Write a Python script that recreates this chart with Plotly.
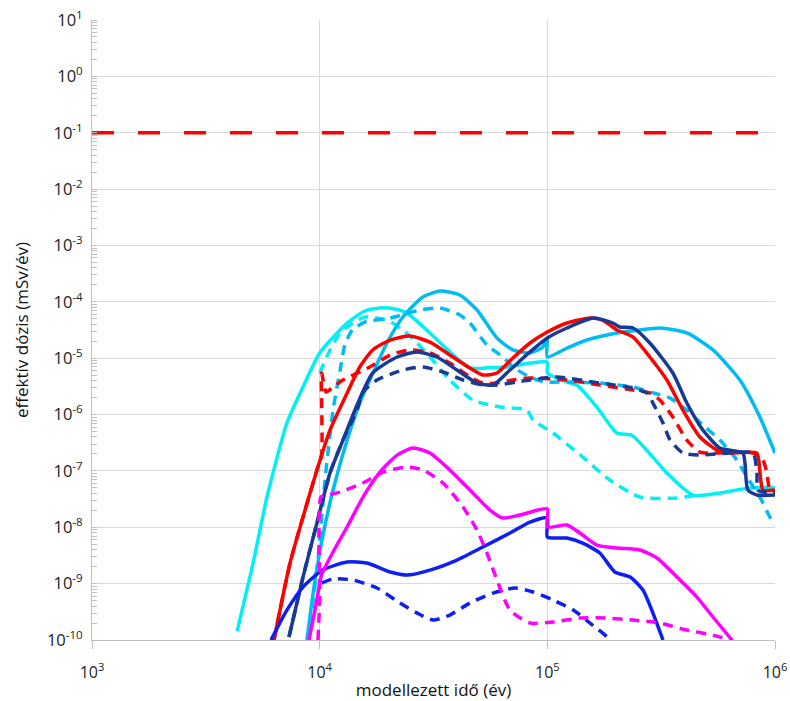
import plotly.graph_objects as go

# ---- data (years, mSv/year) ----
limit_x = [1e3, 1e6]
limit_y = [0.1, 0.1]

aqua_x = [4.34e3, 5.1e3, 5.87e3, 7.18e3, 8.45e3, 1.0e4, 1.32e4, 1.58e4, 1.84e4, 2.14e4, 2.42e4, 3.05e4,
          3.73e4, 4.57e4, 5.6e4, 6.65e4, 8.4e4, 1e5, 1e5, 1.22e5, 1.35e5, 1.65e5, 2.02e5, 2.35e5,
          2.74e5, 3.35e5, 4.36e5, 5.56e5, 7.76e5, 1e6]
aqua_y = [1.44e-10, 2.32e-9, 3.44e-8, 7.07e-7, 3.08e-6, 1.24e-5, 4.2e-5, 6.87e-5, 7.8e-5, 7.45e-5, 6.3e-5, 2.8e-5,
          1.3e-5, 6.7e-6, 6.8e-6, 7.0e-6, 8.2e-6, 8.5e-6, 5.5e-6, 3.8e-6, 3.3e-6, 1.36e-6, 4.7e-7, 4.3e-7,
          2.3e-7, 9.2e-8, 3.7e-8, 4.0e-8, 5.0e-8, 5.1e-8]

aqua_d_x = [1.0e4, 1.11e4, 1.23e4, 1.36e4, 1.58e4, 1.975e4, 2.32e4, 2.68e4, 3.05e4, 3.73e4, 4.71e4,
            6.19e4, 8.14e4, 8.65e4, 1.06e5, 1.43e5, 1.88e5, 2.55e5, 3.71e5, 4.54e5]
aqua_d_y = [5.46e-6, 1.4e-5, 2.8e-5, 3.88e-5, 5.37e-5, 4.75e-5, 3.16e-5, 1.86e-5, 1.05e-5, 4.1e-6, 1.81e-6,
            1.36e-6, 1.2e-6, 8.0e-7, 4.7e-7, 1.76e-7, 6.89e-8, 3.44e-8, 3.3e-8, 3.73e-8]

sky_x = [8.79e3, 9.54e3, 1.03e4, 1.145e4, 1.32e4, 1.5e4, 1.66e4, 1.975e4, 2.32e4, 2.84e4, 3.38e4, 4.13e4,
         4.91e4, 6.01e4, 7.06e4, 8.39e4, 9.56e4, 1e5, 1e5, 1.22e5, 1.49e5, 2.02e5, 2.55e5, 3.12e5,
         4.1e5, 5.34e5, 7.01e5, 8.58e5, 1e6]
sky_y = [1.0e-10, 1.16e-9, 6.71e-9, 4.58e-8, 3.53e-7, 1.6e-6, 4.1e-6, 1.86e-5, 5.37e-5, 1.22e-4, 1.55e-4, 1.32e-4,
         7.15e-5, 2.28e-5, 1.4e-5, 1.24e-5, 1.58e-5, 2.28e-5, 1.05e-5, 1.51e-5, 2.1e-5, 2.8e-5, 3.16e-5, 3.43e-5,
         2.8e-5, 1.4e-5, 4.1e-6, 9.04e-7, 2.08e-7]

sky_d_x = [9.07e3, 9.83e3, 1.055e4, 1.145e4, 1.23e4, 1.29e4, 1.39e4, 1.58e4, 2.04e4, 2.76e4, 3.38e4, 4.13e4,
           4.57e4, 5.43e4, 6.38e4, 7.06e4, 8.39e4, 9.76e4, 1.22e5, 1.7e5, 2.38e5, 2.82e5, 3.46e5, 4.1e5,
           4.82e5, 5.73e5, 6.8e5, 7.53e5, 8.58e5, 9.5e5, 1e6]
sky_d_y = [1.84e-10, 2.62e-9, 6.89e-8, 1.2e-6, 6.17e-6, 1.71e-5, 3.16e-5, 4.38e-5, 5.16e-5, 7.15e-5, 7.76e-5, 5.83e-5,
           4.21e-5, 1.71e-5, 1.05e-5, 6.97e-6, 4.63e-6, 3.78e-6, 3.78e-6, 3.62e-6, 3.08e-6, 2.51e-6, 1.96e-6, 1.2e-6,
           6.52e-7, 3.53e-7, 1.56e-7, 7.78e-8, 3.44e-8, 1.52e-8, 1.1e-8]

red_x = [6.3e3, 7.41e3, 8.45e3, 9.73e3, 1.11e4, 1.32e4, 1.5e4, 1.71e4, 2.04e4, 2.49e4, 3.05e4, 3.73e4,
         4.57e4, 5.21e4, 6.01e4, 7.06e4, 8.39e4, 1e5, 1.22e5, 1.54e5, 1.75e5, 2.02e5, 2.38e5, 2.82e5,
         3.35e5, 3.94e5, 4.68e5, 5.56e5, 6.53e5, 8.33e5, 8.58e5, 8.85e5, 1e6]
red_y = [1.0e-10, 2.32e-9, 1.52e-8, 1.04e-7, 5.31e-7, 2.41e-6, 6.97e-6, 1.4e-5, 2.1e-5, 2.47e-5, 1.93e-5, 1.14e-5,
         6.69e-6, 5.03e-6, 5.46e-6, 1.01e-5, 1.86e-5, 2.91e-5, 4.21e-5, 5.16e-5, 4.75e-5, 3.16e-5, 2.37e-5, 1.05e-5,
         4.1e-6, 1.2e-6, 3.99e-7, 2.35e-7, 2.08e-7, 2.08e-7, 9.55e-8, 4.58e-8, 4.58e-8]

red_d_x = [6.3e3, 7.41e3, 8.45e3, 9.73e3, 1.02e4, 1.02e4, 1.066e4, 1.145e4, 1.266e4, 1.66e4, 2.04e4, 2.49e4,
           3.05e4, 3.73e4, 4.57e4, 5.21e4, 6.01e4, 7.06e4, 8.39e4, 1.22e5, 1.7e5, 2.38e5, 2.82e5, 3.12e5,
           3.56e5, 4.1e5, 4.68e5, 5.34e5, 8.0e5, 8.85e5, 9.21e5, 9.5e5, 1e6]
red_d_y = [1.0e-10, 2.32e-9, 1.52e-8, 1.04e-7, 1.9e-7, 5.46e-6, 2.51e-6, 3.08e-6, 4.1e-6, 6.97e-6, 1.14e-5, 1.4e-5,
           1.24e-5, 8.2e-6, 4.63e-6, 3.62e-6, 3.62e-6, 4.1e-6, 4.45e-6, 4.1e-6, 3.34e-6, 2.72e-6, 2.41e-6, 1.81e-6,
           9.04e-7, 3.53e-7, 2.16e-7, 2.08e-7, 2.08e-7, 1.56e-7, 9.17e-8, 4.58e-8, 4.22e-8]

navy_x = [7.33e3, 8.45e3, 9.73e3, 1.11e4, 1.266e4, 1.46e4, 1.71e4, 2.19e4, 2.68e4, 3.27e4, 4.01e4, 4.91e4,
          5.77e4, 6.85e4, 8.39e4, 1e5, 1.22e5, 1.59e5, 1.94e5, 2.08e5, 2.38e5, 2.82e5, 3.56e5, 4.1e5,
          4.82e5, 5.73e5, 7.23e5, 7.38e5, 7.6e5, 8.33e5, 1e6]
navy_y = [1.13e-10, 1.31e-9, 1.19e-8, 9.17e-8, 3.53e-7, 1.48e-6, 5.46e-6, 1.05e-5, 1.29e-5, 1.05e-5, 6.17e-6, 3.62e-6,
          3.34e-6, 6.17e-6, 1.29e-5, 2.28e-5, 3.43e-5, 5.16e-5, 4.21e-5, 3.57e-5, 3.43e-5, 1.86e-5, 5.46e-6, 1.6e-6,
          5.31e-7, 2.55e-7, 2.08e-7, 1.38e-7, 4.58e-8, 3.73e-8, 3.73e-8]

navy_d_x = [7.33e3, 8.45e3, 9.73e3, 1.11e4, 1.266e4, 1.46e4, 1.55e4, 1.785e4, 2.32e4, 2.84e4, 3.48e4, 4.26e4,
            5.21e4, 6.01e4, 7.35e4, 8.39e4, 1.1e5, 1.7e5, 2.38e5, 2.74e5, 2.91e5, 3.22e5, 3.46e5, 3.94e5,
            4.68e5, 6.34e5, 8.0e5, 8.33e5, 8.41e5, 9.5e5, 1e6]
navy_d_y = [1.13e-10, 1.31e-9, 1.19e-8, 9.17e-8, 3.53e-7, 1.2e-6, 2.51e-6, 4.1e-6, 6.17e-6, 6.97e-6, 5.68e-6, 4.1e-6,
            3.34e-6, 3.34e-6, 3.78e-6, 4.1e-6, 4.63e-6, 3.62e-6, 2.95e-6, 2.41e-6, 1.6e-6, 7.07e-7, 3.53e-7, 2.08e-7,
            1.91e-7, 2.08e-7, 2.08e-7, 9.17e-8, 4.58e-8, 4.05e-8, 4.05e-8]

blue_x = [6.11e3, 7.18e3, 8.45e3, 1.03e4, 1.32e4, 1.61e4, 2.04e4, 2.42e4, 3.05e4, 4.01e4, 5.21e4, 6.85e4,
          8.39e4, 1e5, 1e5, 1.22e5, 1.43e5, 1.7e5, 1.98e5, 2.31e5, 2.63e5, 2.91e5, 3.22e5]
blue_y = [1.0e-10, 3.4e-10, 8.7e-10, 1.74e-9, 2.42e-9, 2.32e-9, 1.61e-9, 1.42e-9, 1.74e-9, 2.62e-9, 4.46e-9, 7.9e-9,
          1.24e-8, 1.46e-8, 6.71e-9, 6.44e-9, 5.25e-9, 3.49e-9, 1.61e-9, 1.31e-9, 7.7e-10, 3.0e-10, 1.0e-10]

blue_d_x = [1.02e4, 1.145e4, 1.4e4, 1.785e4, 2.25e4, 2.68e4, 3.15e4, 3.73e4, 4.57e4, 5.77e4, 7.2e4, 8.65e4,
            1.06e5, 1.3e5, 1.54e5, 1.83e5, 1.88e5]
blue_d_y = [1.025e-9, 1.21e-9, 1.16e-9, 8.36e-10, 4.53e-10, 3.0e-10, 2.26e-10, 2.77e-10, 4.53e-10, 6.81e-10, 8.36e-10,
            7.1e-10, 5.12e-10, 3.4e-10, 2.0e-10, 1.13e-10, 9.6e-11]

mag_x = [8.97e3, 9.63e3, 1.02e4, 1.145e4, 1.32e4, 1.55e4, 1.84e4, 2.19e4, 2.57e4, 3.05e4, 3.73e4, 4.57e4,
         5.6e4, 6.38e4, 7.58e4, 1e5, 1e5, 1.22e5, 1.39e5, 1.65e5, 2.02e5, 2.55e5, 3.03e5, 3.71e5,
         4.54e5, 5.34e5, 6.47e5]
mag_y = [1.0e-10, 4.17e-10, 1.42e-9, 3.64e-9, 1.01e-8, 3.44e-8, 9.55e-8, 1.91e-7, 2.55e-7, 2.08e-7, 1.04e-7, 4.58e-8,
         2.02e-8, 1.46e-8, 1.65e-8, 2.11e-8, 1.01e-8, 1.1e-8, 7.9e-9, 4.84e-9, 4.28e-9, 3.95e-9, 2.85e-9, 1.31e-9,
         5.78e-10, 2.56e-10, 1.0e-10]

mag_d_x = [9.83e3, 1.0e4, 1.013e4, 1.076e4, 1.23e4, 1.55e4, 1.9e4, 2.42e4, 2.84e4, 3.48e4, 4.26e4, 4.91e4,
           5.43e4, 6.01e4, 6.85e4, 8.39e4, 1.06e5, 1.39e5, 1.83e5, 2.38e5, 3.12e5, 4.1e5, 5.34e5, 6.53e5]
mag_d_y = [1.0e-10, 5.12e-10, 3.44e-8, 3.73e-8, 4.22e-8, 6.1e-8, 9.55e-8, 1.17e-7, 1.04e-7, 6.1e-8, 2.29e-8, 8.93e-9,
           3.49e-9, 1.16e-9, 3.4e-10, 2.0e-10, 2.08e-10, 2.45e-10, 2.45e-10, 2.26e-10, 2.0e-10, 1.5e-10, 1.22e-10, 9.6e-11]

x_tickvals = [1e3, 1e4, 1e5, 1e6]
x_ticktext = ["10<sup>3</sup>", "10<sup>4</sup>", "10<sup>5</sup>", "10<sup>6</sup>"]
y_exps = list(range(-10, 2))
y_tickvals = [10.0 ** e for e in y_exps]
y_ticktext = ["10<sup>%d</sup>" % e for e in y_exps]

# ---- styles ----
AQUA = "#00F0F5"
SKY = "#00BCF2"
RED = "#FF0000"
NAVY = "#173A96"
BLUE = "#0D1FF2"
MAG = "#FF00FF"
DASH = "10px,7px"

series = [
    (limit_x, limit_y, RED, "22px,24px", 3.5, "linear"),
    (aqua_x, aqua_y, AQUA, "solid", 3.5, "spline"),
    (aqua_d_x, aqua_d_y, AQUA, DASH, 3.5, "spline"),
    (sky_x, sky_y, SKY, "solid", 3.5, "spline"),
    (sky_d_x, sky_d_y, SKY, DASH, 3.5, "spline"),
    (red_x, red_y, RED, "solid", 3.5, "spline"),
    (red_d_x, red_d_y, RED, DASH, 3.5, "spline"),
    (navy_x, navy_y, NAVY, "solid", 3.5, "spline"),
    (navy_d_x, navy_d_y, NAVY, DASH, 3.5, "spline"),
    (blue_x, blue_y, BLUE, "solid", 3.5, "spline"),
    (blue_d_x, blue_d_y, BLUE, DASH, 3.5, "spline"),
    (mag_x, mag_y, MAG, "solid", 3.5, "spline"),
    (mag_d_x, mag_d_y, MAG, DASH, 3.5, "spline"),
]

fig = go.Figure()
for xs, ys, col, dash, w, shape in series:
    fig.add_trace(go.Scatter(x=xs, y=ys, mode="lines",
                             line=dict(color=col, width=w, dash=dash, shape=shape, smoothing=0.6),
                             showlegend=False, hoverinfo="skip", cliponaxis=True))

FONT = "Open Sans"
GRID = "#D9D9D9"
AX = "#BFBFBF"

fig.update_layout(
    width=790, height=701,
    margin=dict(l=92, r=15, t=20, b=61, autoexpand=False),
    paper_bgcolor="white", plot_bgcolor="white",
    font=dict(family=FONT, size=16, color="#222222"),
    showlegend=False,
)
fig.update_xaxes(
    type="log", range=[3, 6], automargin=False,
    tickvals=x_tickvals, ticktext=x_ticktext,
    showgrid=True, gridcolor=GRID, gridwidth=1,
    showline=True, linecolor=AX, linewidth=1,
    ticks="outside", ticklen=8, tickcolor=AX,
    tickfont=dict(family=FONT, size=16, color="#222222"),
    ticklabelstandoff=10,
    title=dict(text="modellezett idő (év)", font=dict(family=FONT, size=17, color="#111111"), standoff=6),
    zeroline=False,
)
fig.update_yaxes(
    type="log", range=[-10, 1], automargin=False,
    tickvals=y_tickvals, ticktext=y_ticktext,
    showgrid=True, gridcolor=GRID, gridwidth=1,
    showline=True, linecolor=AX, linewidth=1,
    ticks="",
    minor=dict(ticks="inside", ticklen=5, tickcolor=AX, showgrid=False, dtick="D1"),
    tickfont=dict(family=FONT, size=16.5, color="#222222"),
    ticklabelstandoff=5,
    title=dict(text="effektív dózis (mSv/év)", font=dict(family=FONT, size=17, color="#111111"), standoff=13),
    zeroline=False,
)

fig.write_html("out.html")
